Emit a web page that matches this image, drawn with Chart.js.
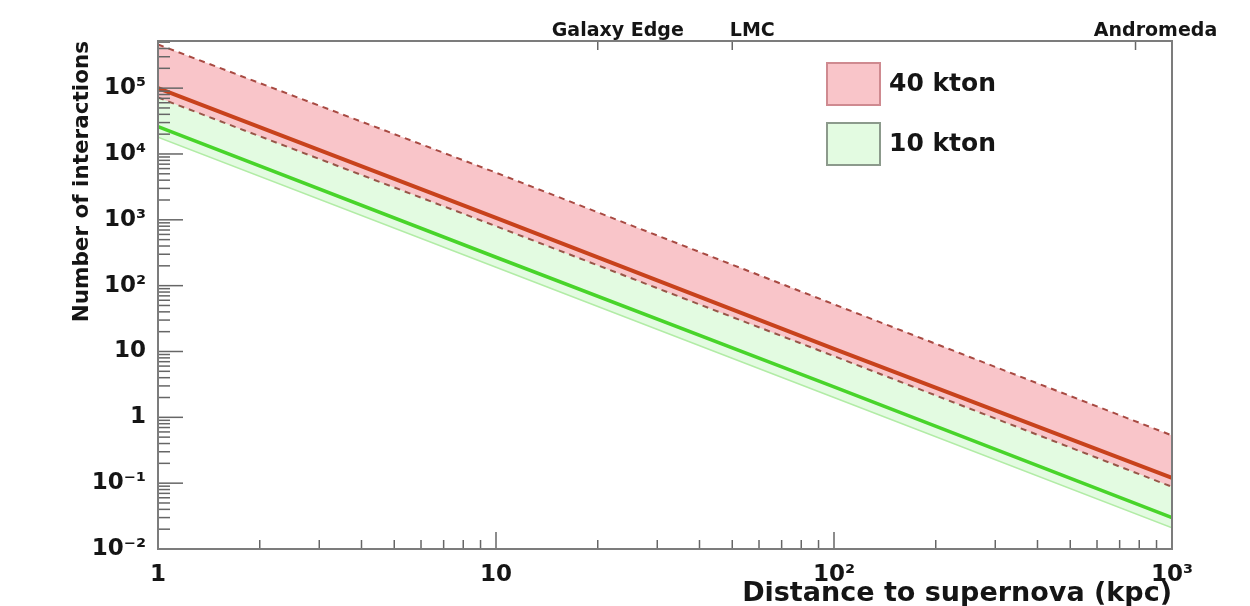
<!DOCTYPE html>
<html>
<head>
<meta charset="utf-8">
<script src="https://cdn.jsdelivr.net/npm/chart.js@4.4.0/dist/chart.umd.min.js"></script>
<style>
  html, body { margin: 0; padding: 0; background: #fff; }
  #wrap { width: 1250px; height: 606px; }
</style>
</head>
<body>
<div id="wrap"><canvas id="chart" width="1250" height="606"></canvas></div>
<script>
// distances (kpc) and interaction counts
const distances = [1, 10, 100, 1000];
const rate40 = [1e5, 1.07e3, 11, 0.12];
const rate40High = [4.6e5, 5.2e3, 52, 0.53];
const rate40Low = [7.2e4, 800, 8.5, 0.088];
const rate10 = [2.6e4, 270, 2.9, 0.03];
const rate10High = [1.15e5, 1.3e3, 13, 0.13];
const rate10Low = [1.8e4, 190, 2.0, 0.021];

const xTickValues = [1, 10, 100, 1000];
const xTickLabels = ['1', '10', '10²', '10³'];
const yTickValues = [1e-2, 1e-1, 1, 10, 1e2, 1e3, 1e4, 1e5];
const yTickLabels = ['10⁻²', '10⁻¹', '1', '10', '10²', '10³', '10⁴', '10⁵'];
const markerValues = [20, 50, 780];
const markerLabels = ['Galaxy Edge', 'LMC', 'Andromeda'];

const FONT = "'DejaVu Sans', sans-serif";
const pts = arr => distances.map((d, i) => ({ x: d, y: arr[i] }));

// tick marks inside the frame, ROOT style
const frameTicks = {
    id: 'frameTicks',
    afterDatasetsDraw(chart) {
        const { ctx, chartArea: a, scales } = chart;
        const seg = (x1, y1, x2, y2) => { ctx.beginPath(); ctx.moveTo(x1, y1); ctx.lineTo(x2, y2); ctx.stroke(); };
        ctx.save();
        ctx.strokeStyle = '#666';
        ctx.lineWidth = 1.5;
        for (let e = -2; e <= 5; e++) {
            for (let m = 1; m <= 9; m++) {
                const v = m * Math.pow(10, e);
                if (v > scales.y.max) continue;
                const py = scales.y.getPixelForValue(v);
                seg(a.left, py, a.left + (m === 1 ? 25 : 12), py);
            }
        }
        for (let e = 0; e <= 3; e++) {
            for (let m = 1; m <= 9; m++) {
                const v = m * Math.pow(10, e);
                if (v > scales.x.max) continue;
                const px = scales.x.getPixelForValue(v);
                seg(px, a.bottom, px, a.bottom - (m === 1 ? 17 : 9));
            }
        }
        markerValues.forEach(v => {
            const px = scales.xTop.getPixelForValue(v);
            seg(px, a.top, px, a.top + 9);
        });
        ctx.strokeStyle = '#7c7c7c';
        ctx.lineWidth = 2;
        ctx.strokeRect(a.left, a.top, a.right - a.left, a.bottom - a.top);
        ctx.restore();
    }
};

// legend boxes drawn from the band datasets
const bandLegend = {
    id: 'bandLegend',
    afterDraw(chart) {
        const { ctx } = chart;
        const items = chart.data.datasets.filter(ds => ds.legendText);
        ctx.save();
        items.forEach((ds, i) => {
            const top = 63 + i * 60;
            ctx.fillStyle = ds.backgroundColor;
            ctx.fillRect(827, top, 53, 42);
            ctx.strokeStyle = ds.legendEdge;
            ctx.lineWidth = 2;
            ctx.strokeRect(827, top, 53, 42);
            ctx.fillStyle = '#151515';
            ctx.font = 'bold 25px ' + FONT;
            ctx.textBaseline = 'middle';
            ctx.fillText(ds.legendText, 889, top + 21);
        });
        ctx.restore();
    }
};

const line = (data, color, width, extra) => Object.assign({
    data: pts(data), borderColor: color, borderWidth: width,
    pointRadius: 0, tension: 0, fill: false
}, extra || {});

new Chart(document.getElementById('chart'), {
    type: 'line',
    data: {
        datasets: [
            line(rate40, '#c8421c', 4),
            line(rate40High, '#a84a42', 2, { borderDash: [6, 5] }),
            line(rate40Low, '#985648', 2, { borderDash: [6, 5], fill: '-1', backgroundColor: '#f9c5c9',
                legendText: '40 kton', legendEdge: '#cf8a90' }),
            line(rate10, '#48d42a', 3.5),
            line(rate10High, '#c4f2bc', 1),
            line(rate10Low, '#b2eca6', 1.5, { fill: '-1', backgroundColor: '#e3fbe1',
                legendText: '10 kton', legendEdge: '#8c9a8c' })
        ]
    },
    options: {
        responsive: false,
        animation: false,
        devicePixelRatio: 1,
        events: [],
        layout: { padding: { left: 0, right: 78, top: 0, bottom: 0 } },
        plugins: { legend: { display: false }, tooltip: { enabled: false } },
        scales: {
            x: {
                type: 'logarithmic', position: 'bottom', min: 1, max: 1000,
                afterBuildTicks: s => { s.ticks = xTickValues.map(v => ({ value: v })); },
                afterFit: s => { s.height = 57; },
                grid: { display: false, drawTicks: false },
                border: { display: false },
                ticks: {
                    autoSkip: false, maxRotation: 0, padding: 12, color: '#151515',
                    font: { family: FONT, size: 23, weight: 'bold' },
                    callback: (v, i) => xTickLabels[i]
                },
                title: {
                    display: true, text: 'Distance to supernova (kpc)', align: 'end', color: '#151515',
                    padding: 0, font: { family: FONT, size: 27, weight: 'bold', lineHeight: 0.9 }
                }
            },
            xTop: {
                type: 'logarithmic', position: 'top', min: 1, max: 1000,
                afterBuildTicks: s => { s.ticks = markerValues.map(v => ({ value: v })); },
                afterFit: s => { s.height = 41; },
                grid: { display: false, drawTicks: false },
                border: { display: false },
                ticks: {
                    autoSkip: false, maxRotation: 0, padding: 0, labelOffset: 20, color: '#151515',
                    font: { family: FONT, size: 19, weight: 'bold', lineHeight: 1 },
                    callback: (v, i) => markerLabels[i]
                }
            },
            y: {
                type: 'logarithmic', position: 'left', min: 0.01, max: 5.2e5,
                afterBuildTicks: s => { s.ticks = yTickValues.map(v => ({ value: v })); },
                afterFit: s => { s.width = 158; },
                grid: { display: false, drawTicks: false },
                border: { display: false },
                ticks: {
                    autoSkip: false, padding: 12, color: '#151515',
                    font: { family: FONT, size: 23, weight: 'bold' },
                    callback: (v, i) => yTickLabels[i]
                },
                title: {
                    display: true, text: 'Number of interactions', align: 'end', color: '#151515',
                    padding: { top: 70, bottom: 0 }, font: { family: FONT, size: 21.5, weight: 'bold' }
                }
            }
        }
    },
    plugins: [frameTicks, bandLegend]
});
</script>
</body>
</html>
